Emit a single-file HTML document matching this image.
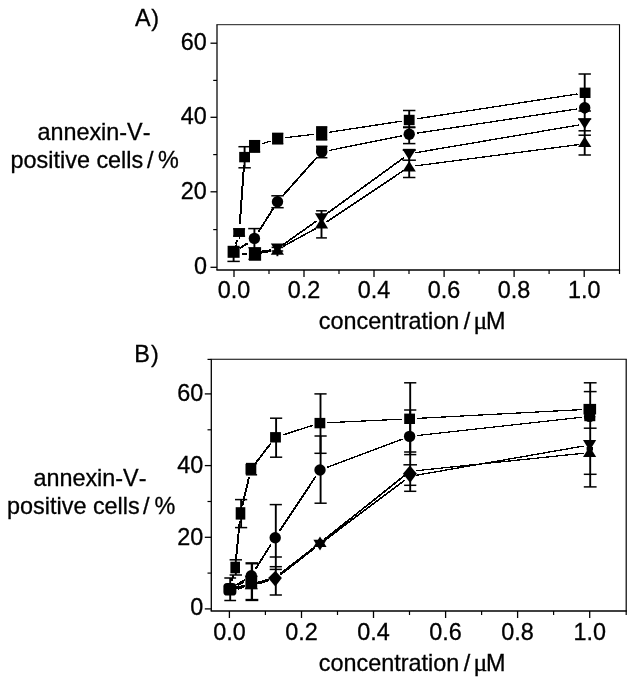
<!DOCTYPE html>
<html lang="en">
<head>
<meta charset="utf-8">
<title>Annexin-V-positive cells versus concentration</title>
<style>
html,body{margin:0;padding:0;background:#fff;}
body{width:636px;height:686px;overflow:hidden;}
svg{display:block;}
.t text{font-family:"Liberation Sans",Arial,Helvetica,sans-serif;font-size:23.4px;fill:#000;font-kerning:none;stroke:#000;stroke-width:0.3px;}
.t tspan.mu{font-family:"Liberation Serif","DejaVu Serif",serif;font-size:25.74px;}
</style>
</head>
<body>
<svg width="636" height="686" viewBox="0 0 636 686">
<rect x="0" y="0" width="636" height="686" fill="#fff"/>
<!-- panel A -->
<g stroke="#000" fill="none" shape-rendering="geometricPrecision">
<line x1="216.38" y1="24.7" x2="620.05" y2="24.7" stroke-width="0.9"/>
<line x1="216.38" y1="269.95" x2="620.05" y2="269.95" stroke-width="1.5"/>
<line x1="217" y1="24.7" x2="217" y2="269.95" stroke-width="1.25"/>
<line x1="619.5" y1="24.7" x2="619.5" y2="269.95" stroke-width="1.1"/>
<line x1="234" y1="269.95" x2="234" y2="276.95" stroke-width="1.3"/>
<line x1="304" y1="269.95" x2="304" y2="276.95" stroke-width="1.3"/>
<line x1="374" y1="269.95" x2="374" y2="276.95" stroke-width="1.3"/>
<line x1="444.1" y1="269.95" x2="444.1" y2="276.95" stroke-width="1.3"/>
<line x1="514.1" y1="269.95" x2="514.1" y2="276.95" stroke-width="1.3"/>
<line x1="584.2" y1="269.95" x2="584.2" y2="276.95" stroke-width="1.3"/>
<line x1="269" y1="269.95" x2="269" y2="273.95" stroke-width="1.2"/>
<line x1="339" y1="269.95" x2="339" y2="273.95" stroke-width="1.2"/>
<line x1="409" y1="269.95" x2="409" y2="273.95" stroke-width="1.2"/>
<line x1="479.1" y1="269.95" x2="479.1" y2="273.95" stroke-width="1.2"/>
<line x1="549.1" y1="269.95" x2="549.1" y2="273.95" stroke-width="1.2"/>
<line x1="619.5" y1="269.95" x2="619.5" y2="273.95" stroke-width="1.2"/>
<line x1="210.5" y1="267.3" x2="217" y2="267.3" stroke-width="1.3"/>
<line x1="210.5" y1="191.8" x2="217" y2="191.8" stroke-width="1.3"/>
<line x1="210.5" y1="117.3" x2="217" y2="117.3" stroke-width="1.3"/>
<line x1="210.5" y1="43.2" x2="217" y2="43.2" stroke-width="1.3"/>
<line x1="213.2" y1="229.6" x2="217" y2="229.6" stroke-width="1.2"/>
<line x1="213.2" y1="154.6" x2="217" y2="154.6" stroke-width="1.2"/>
<line x1="213.2" y1="80.4" x2="217" y2="80.4" stroke-width="1.2"/>
</g>
<g class="t">
<text x="206.9" y="273.7" text-anchor="end">0</text>
<text x="206.9" y="198.9" text-anchor="end">20</text>
<text x="206.9" y="124.4" text-anchor="end">40</text>
<text x="206.9" y="50.3" text-anchor="end">60</text>
<text x="234" y="297.5" text-anchor="middle">0.0</text>
<text x="304" y="297.5" text-anchor="middle">0.2</text>
<text x="374" y="297.5" text-anchor="middle">0.4</text>
<text x="444.1" y="297.5" text-anchor="middle">0.6</text>
<text x="514.1" y="297.5" text-anchor="middle">0.8</text>
<text x="584.2" y="297.5" text-anchor="middle">1.0</text>
</g>
<g stroke="#000" fill="none" shape-rendering="crispEdges">
<line x1="235.44" y1="244.01" x2="236.6" y2="239.99" stroke-width="1.2"/>
<line x1="236.2" y1="244.01" x2="237.36" y2="239.99" stroke-width="1.2"/>
<line x1="239.39" y1="224.32" x2="243.65" y2="165.08" stroke-width="1.2"/>
<line x1="240.15" y1="224.32" x2="244.41" y2="165.08" stroke-width="1.2"/>
<line x1="261.8" y1="143.84" x2="269.74" y2="141.16" stroke-width="1.2"/>
<line x1="262.56" y1="143.84" x2="270.5" y2="141.16" stroke-width="1.2"/>
<line x1="285.26" y1="137.66" x2="313.38" y2="134.34" stroke-width="1.2"/>
<line x1="286.02" y1="137.66" x2="314.14" y2="134.34" stroke-width="1.2"/>
<line x1="329.23" y1="132.19" x2="400.91" y2="121.21" stroke-width="1.2"/>
<line x1="329.99" y1="132.19" x2="401.67" y2="121.21" stroke-width="1.2"/>
<line x1="416.73" y1="118.78" x2="576.81" y2="94.02" stroke-width="1.2"/>
<line x1="417.49" y1="118.78" x2="577.57" y2="94.02" stroke-width="1.2"/>
<line x1="239.84" y1="248.01" x2="247.4" y2="242.89" stroke-width="1.2"/>
<line x1="240.6" y1="248.01" x2="248.16" y2="242.89" stroke-width="1.2"/>
<line x1="258.28" y1="231.63" x2="272.86" y2="208.47" stroke-width="1.2"/>
<line x1="259.04" y1="231.63" x2="273.62" y2="208.47" stroke-width="1.2"/>
<line x1="282.44" y1="195.72" x2="316" y2="157.98" stroke-width="1.2"/>
<line x1="283.2" y1="195.72" x2="316.76" y2="157.98" stroke-width="1.2"/>
<line x1="329.16" y1="150.41" x2="400.98" y2="135.89" stroke-width="1.2"/>
<line x1="329.92" y1="150.41" x2="401.74" y2="135.89" stroke-width="1.2"/>
<line x1="416.73" y1="133.11" x2="576.41" y2="108.99" stroke-width="1.2"/>
<line x1="417.49" y1="133.11" x2="577.17" y2="108.99" stroke-width="1.2"/>
<line x1="260.63" y1="251.43" x2="270.61" y2="249.77" stroke-width="1.2"/>
<line x1="261.39" y1="251.43" x2="271.37" y2="249.77" stroke-width="1.2"/>
<line x1="282.33" y1="244.95" x2="315.81" y2="221.25" stroke-width="1.2"/>
<line x1="283.09" y1="244.95" x2="316.57" y2="221.25" stroke-width="1.2"/>
<line x1="326.38" y1="213.68" x2="403.56" y2="157.62" stroke-width="1.2"/>
<line x1="327.14" y1="213.68" x2="404.32" y2="157.62" stroke-width="1.2"/>
<line x1="415.23" y1="152.71" x2="577.91" y2="125.09" stroke-width="1.2"/>
<line x1="415.99" y1="152.71" x2="578.67" y2="125.09" stroke-width="1.2"/>
<line x1="260.57" y1="253.11" x2="270.67" y2="250.89" stroke-width="1.2"/>
<line x1="261.33" y1="253.11" x2="271.43" y2="250.89" stroke-width="1.2"/>
<line x1="282.72" y1="246.38" x2="315.42" y2="228.52" stroke-width="1.2"/>
<line x1="283.48" y1="246.38" x2="316.18" y2="228.52" stroke-width="1.2"/>
<line x1="326.52" y1="221.78" x2="403.42" y2="170.32" stroke-width="1.2"/>
<line x1="327.28" y1="221.78" x2="404.18" y2="170.32" stroke-width="1.2"/>
<line x1="415.27" y1="165.86" x2="577.87" y2="144.64" stroke-width="1.2"/>
<line x1="416.03" y1="165.86" x2="578.63" y2="144.64" stroke-width="1.2"/>
<line x1="242.4" y1="253.8" x2="247" y2="253.8" stroke-width="2.2"/>
<line x1="262.4" y1="252.6" x2="270.2" y2="251" stroke-width="2.2"/>
<line x1="239.8" y1="248.3" x2="248.2" y2="243.5" stroke-width="1.5"/>
<line x1="236.2" y1="245.8" x2="237" y2="240.6" stroke-width="1.5"/>
<line x1="239.6" y1="237" x2="239.6" y2="238.6" stroke-width="1.5"/>
</g>
<g stroke="#000" fill="none">
<line x1="233.6" y1="256" x2="233.6" y2="261.4" stroke-width="1.9"/>
<line x1="227.4" y1="261.4" x2="239.8" y2="261.4" stroke-width="1.5"/>
<line x1="239.1" y1="228.8" x2="239.1" y2="236.2" stroke-width="1.9"/>
<line x1="233.1" y1="228.8" x2="245.1" y2="228.8" stroke-width="1.5"/>
<line x1="233.1" y1="236.2" x2="245.1" y2="236.2" stroke-width="1.5"/>
<line x1="244.6" y1="146.7" x2="244.6" y2="167.8" stroke-width="1.9"/>
<line x1="238.4" y1="146.7" x2="250.8" y2="146.7" stroke-width="1.5"/>
<line x1="238.4" y1="167.8" x2="250.8" y2="167.8" stroke-width="1.5"/>
<line x1="254.6" y1="140.7" x2="254.6" y2="152.1" stroke-width="1.9"/>
<line x1="249" y1="140.7" x2="260.2" y2="140.7" stroke-width="1.5"/>
<line x1="249" y1="152.1" x2="260.2" y2="152.1" stroke-width="1.5"/>
<line x1="277.7" y1="133.4" x2="277.7" y2="143.8" stroke-width="1.9"/>
<line x1="272.1" y1="133.4" x2="283.3" y2="133.4" stroke-width="1.5"/>
<line x1="272.1" y1="143.8" x2="283.3" y2="143.8" stroke-width="1.5"/>
<line x1="321.7" y1="126.9" x2="321.7" y2="139.9" stroke-width="1.9"/>
<line x1="316.1" y1="126.9" x2="327.3" y2="126.9" stroke-width="1.5"/>
<line x1="316.1" y1="139.9" x2="327.3" y2="139.9" stroke-width="1.5"/>
<line x1="409.2" y1="110.5" x2="409.2" y2="127" stroke-width="1.9"/>
<line x1="403" y1="110.5" x2="415.4" y2="110.5" stroke-width="1.5"/>
<line x1="403" y1="127" x2="415.4" y2="127" stroke-width="1.5"/>
<line x1="584.7" y1="74" x2="584.7" y2="111" stroke-width="1.9"/>
<line x1="578.5" y1="74" x2="590.9" y2="74" stroke-width="1.5"/>
<line x1="578.5" y1="111" x2="590.9" y2="111" stroke-width="1.5"/>
<line x1="254.4" y1="228.6" x2="254.4" y2="248.5" stroke-width="1.9"/>
<line x1="248.2" y1="228.6" x2="260.6" y2="228.6" stroke-width="1.5"/>
<line x1="277.5" y1="195.8" x2="277.5" y2="207.7" stroke-width="1.9"/>
<line x1="271.3" y1="195.8" x2="283.7" y2="195.8" stroke-width="1.5"/>
<line x1="271.3" y1="207.7" x2="283.7" y2="207.7" stroke-width="1.5"/>
<line x1="321.7" y1="146.3" x2="321.7" y2="157.7" stroke-width="1.9"/>
<line x1="316" y1="146.3" x2="327.4" y2="146.3" stroke-width="1.5"/>
<line x1="316" y1="157.7" x2="327.4" y2="157.7" stroke-width="1.5"/>
<line x1="409.2" y1="127.6" x2="409.2" y2="143.6" stroke-width="1.9"/>
<line x1="403" y1="127.6" x2="415.4" y2="127.6" stroke-width="1.5"/>
<line x1="403" y1="143.6" x2="415.4" y2="143.6" stroke-width="1.5"/>
<line x1="584.7" y1="102" x2="584.7" y2="114" stroke-width="1.9"/>
<line x1="321.5" y1="210.8" x2="321.5" y2="237.9" stroke-width="1.9"/>
<line x1="316.1" y1="210.8" x2="326.9" y2="210.8" stroke-width="1.5"/>
<line x1="316.1" y1="237.9" x2="326.9" y2="237.9" stroke-width="1.5"/>
<line x1="409.2" y1="149.6" x2="409.2" y2="177.5" stroke-width="1.9"/>
<line x1="403" y1="149.6" x2="415.4" y2="149.6" stroke-width="1.5"/>
<line x1="403" y1="177.5" x2="415.4" y2="177.5" stroke-width="1.5"/>
<line x1="402.5" y1="160.2" x2="415.9" y2="160.2" stroke-width="1.5"/>
<line x1="584.7" y1="113" x2="584.7" y2="155" stroke-width="1.9"/>
<line x1="578.5" y1="155" x2="590.9" y2="155" stroke-width="1.5"/>
<line x1="578.5" y1="130.8" x2="590.9" y2="130.8" stroke-width="1.5"/>
<line x1="578.5" y1="135.2" x2="590.9" y2="135.2" stroke-width="1.5"/>
<line x1="277.4" y1="250" x2="277.4" y2="256.2" stroke-width="1.9"/>
<line x1="271.6" y1="247.4" x2="283.2" y2="247.4" stroke-width="1.5"/>
<line x1="271.6" y1="251" x2="283.2" y2="251" stroke-width="1.5"/>
<line x1="402.7" y1="150.2" x2="415.7" y2="150.2" stroke-width="1.5"/>
<line x1="578.2" y1="119" x2="591.2" y2="119" stroke-width="1.5"/>
</g>
<g fill="#000" stroke="none">
<rect x="227.6" y="245.8" width="12" height="12"/>
<rect x="233.3" y="228.7" width="11.6" height="7.6"/>
<rect x="239.2" y="151.9" width="10.8" height="10.4"/>
<rect x="249.2" y="141.2" width="10.8" height="10.4"/>
<rect x="272.3" y="133.4" width="10.8" height="10.4"/>
<rect x="316.3" y="128.2" width="10.8" height="10.4"/>
<rect x="403.8" y="114.8" width="10.8" height="10.4"/>
<rect x="579.7" y="87.6" width="10.8" height="10.4"/>
<circle cx="254.4" cy="238.4" r="5.7"/>
<circle cx="277.5" cy="201.7" r="5.7"/>
<circle cx="321.7" cy="152" r="5.7"/>
<circle cx="409.2" cy="134.3" r="5.7"/>
<circle cx="584.7" cy="107.8" r="5.7"/>
<polygon points="248,247.2 261.2,247.2 254.6,257.8"/>
<polygon points="270.8,243.4 284,243.4 277.4,254"/>
<polygon points="314.9,213.3 328.1,213.3 321.5,223.9"/>
<polygon points="402.6,149.5 415.8,149.5 409.2,160.1"/>
<polygon points="578.1,118.5 591.3,118.5 584.7,129.1"/>
<polygon points="254.6,249.2 261.2,259.8 248,259.8"/>
<polygon points="277.4,244.2 284,254.8 270.8,254.8"/>
<polygon points="321.5,217.8 328.1,228.4 314.9,228.4"/>
<polygon points="409.2,160.9 415.8,171.5 402.6,171.5"/>
<polygon points="584.7,136.4 591.3,147 578.1,147"/>
<rect x="249.1" y="140.6" width="11" height="11.6"/>
<rect x="272.2" y="133.3" width="11" height="10.6"/>
<rect x="316.2" y="126.8" width="11" height="13.2"/>
<rect x="316.2" y="146.1" width="11" height="6.6"/>
<rect x="248.9" y="247.45" width="12.2" height="13.3"/>
</g>
<!-- panel B -->
<g stroke="#000" fill="none" shape-rendering="geometricPrecision">
<line x1="210.65" y1="359.3" x2="626.8" y2="359.3" stroke-width="1.05"/>
<line x1="210.65" y1="611" x2="626.8" y2="611" stroke-width="1.3"/>
<line x1="211.3" y1="359.3" x2="211.3" y2="611" stroke-width="1.3"/>
<line x1="626.2" y1="359.3" x2="626.2" y2="611" stroke-width="1.2"/>
<line x1="229.4" y1="611" x2="229.4" y2="618" stroke-width="1.3"/>
<line x1="301.5" y1="611" x2="301.5" y2="618" stroke-width="1.3"/>
<line x1="373.5" y1="611" x2="373.5" y2="618" stroke-width="1.3"/>
<line x1="445.6" y1="611" x2="445.6" y2="618" stroke-width="1.3"/>
<line x1="517.6" y1="611" x2="517.6" y2="618" stroke-width="1.3"/>
<line x1="589.7" y1="611" x2="589.7" y2="618" stroke-width="1.3"/>
<line x1="265.4" y1="611" x2="265.4" y2="615" stroke-width="1.2"/>
<line x1="337.5" y1="611" x2="337.5" y2="615" stroke-width="1.2"/>
<line x1="409.5" y1="611" x2="409.5" y2="615" stroke-width="1.2"/>
<line x1="481.6" y1="611" x2="481.6" y2="615" stroke-width="1.2"/>
<line x1="553.6" y1="611" x2="553.6" y2="615" stroke-width="1.2"/>
<line x1="626.2" y1="611" x2="626.2" y2="615" stroke-width="1.2"/>
<line x1="204.8" y1="608.9" x2="211.3" y2="608.9" stroke-width="1.3"/>
<line x1="204.8" y1="537.3" x2="211.3" y2="537.3" stroke-width="1.3"/>
<line x1="204.8" y1="465.6" x2="211.3" y2="465.6" stroke-width="1.3"/>
<line x1="204.8" y1="393.9" x2="211.3" y2="393.9" stroke-width="1.3"/>
<line x1="207.5" y1="573.1" x2="211.3" y2="573.1" stroke-width="1.2"/>
<line x1="207.5" y1="501.5" x2="211.3" y2="501.5" stroke-width="1.2"/>
<line x1="207.5" y1="429.8" x2="211.3" y2="429.8" stroke-width="1.2"/>
<line x1="207.5" y1="359.4" x2="211.3" y2="359.4" stroke-width="1.2"/>
</g>
<g class="t">
<text x="203.2" y="615.4" text-anchor="end">0</text>
<text x="203.2" y="544.5" text-anchor="end">20</text>
<text x="203.2" y="472.8" text-anchor="end">40</text>
<text x="203.2" y="401.1" text-anchor="end">60</text>
<text x="229.4" y="640.3" text-anchor="middle">0.0</text>
<text x="301.5" y="640.3" text-anchor="middle">0.2</text>
<text x="373.5" y="640.3" text-anchor="middle">0.4</text>
<text x="445.6" y="640.3" text-anchor="middle">0.6</text>
<text x="517.6" y="640.3" text-anchor="middle">0.8</text>
<text x="589.7" y="640.3" text-anchor="middle">1.0</text>
</g>
<g stroke="#000" fill="none" shape-rendering="crispEdges">
<line x1="231.39" y1="581.05" x2="232.85" y2="575.25" stroke-width="1.2"/>
<line x1="232.15" y1="581.05" x2="233.61" y2="575.25" stroke-width="1.2"/>
<line x1="235.6" y1="559.54" x2="239.34" y2="521.36" stroke-width="1.2"/>
<line x1="236.36" y1="559.54" x2="240.1" y2="521.36" stroke-width="1.2"/>
<line x1="241.95" y1="505.61" x2="248.69" y2="476.99" stroke-width="1.2"/>
<line x1="242.71" y1="505.61" x2="249.45" y2="476.99" stroke-width="1.2"/>
<line x1="255.41" y1="462.86" x2="270.23" y2="443.64" stroke-width="1.2"/>
<line x1="256.17" y1="462.86" x2="270.99" y2="443.64" stroke-width="1.2"/>
<line x1="282.74" y1="434.86" x2="311.9" y2="425.54" stroke-width="1.2"/>
<line x1="283.5" y1="434.86" x2="312.66" y2="425.54" stroke-width="1.2"/>
<line x1="327.51" y1="422.72" x2="401.23" y2="419.18" stroke-width="1.2"/>
<line x1="328.27" y1="422.72" x2="401.99" y2="419.18" stroke-width="1.2"/>
<line x1="417.21" y1="418.37" x2="581.23" y2="409.63" stroke-width="1.2"/>
<line x1="417.97" y1="418.37" x2="581.99" y2="409.63" stroke-width="1.2"/>
<line x1="236.24" y1="584.81" x2="244.1" y2="579.99" stroke-width="1.2"/>
<line x1="237" y1="584.81" x2="244.86" y2="579.99" stroke-width="1.2"/>
<line x1="255.17" y1="569.02" x2="270.57" y2="544.48" stroke-width="1.2"/>
<line x1="255.93" y1="569.02" x2="271.33" y2="544.48" stroke-width="1.2"/>
<line x1="279.23" y1="531.03" x2="315.21" y2="476.67" stroke-width="1.2"/>
<line x1="279.99" y1="531.03" x2="315.97" y2="476.67" stroke-width="1.2"/>
<line x1="327.11" y1="467.19" x2="401.73" y2="439.21" stroke-width="1.2"/>
<line x1="327.87" y1="467.19" x2="402.49" y2="439.21" stroke-width="1.2"/>
<line x1="417.17" y1="435.52" x2="581.27" y2="417.28" stroke-width="1.2"/>
<line x1="417.93" y1="435.52" x2="582.03" y2="417.28" stroke-width="1.2"/>
<line x1="235.78" y1="587.17" x2="244.56" y2="585.33" stroke-width="1.2"/>
<line x1="236.54" y1="587.17" x2="245.32" y2="585.33" stroke-width="1.2"/>
<line x1="257.2" y1="582.33" x2="268.64" y2="579.27" stroke-width="1.2"/>
<line x1="257.96" y1="582.33" x2="269.4" y2="579.27" stroke-width="1.2"/>
<line x1="280.05" y1="573.61" x2="314.49" y2="546.89" stroke-width="1.2"/>
<line x1="280.81" y1="573.61" x2="315.25" y2="546.89" stroke-width="1.2"/>
<line x1="324.7" y1="538.85" x2="404.24" y2="475.45" stroke-width="1.2"/>
<line x1="325.46" y1="538.85" x2="405" y2="475.45" stroke-width="1.2"/>
<line x1="415.78" y1="470.72" x2="582.76" y2="453.28" stroke-width="1.2"/>
<line x1="416.54" y1="470.72" x2="583.52" y2="453.28" stroke-width="1.2"/>
<line x1="235.81" y1="588.31" x2="244.53" y2="586.69" stroke-width="1.2"/>
<line x1="236.57" y1="588.31" x2="245.29" y2="586.69" stroke-width="1.2"/>
<line x1="257.18" y1="583.75" x2="268.66" y2="580.55" stroke-width="1.2"/>
<line x1="257.94" y1="583.75" x2="269.42" y2="580.55" stroke-width="1.2"/>
<line x1="280.04" y1="574.8" x2="314.5" y2="547.9" stroke-width="1.2"/>
<line x1="280.8" y1="574.8" x2="315.26" y2="547.9" stroke-width="1.2"/>
<line x1="324.81" y1="539.99" x2="404.13" y2="480.31" stroke-width="1.2"/>
<line x1="325.57" y1="539.99" x2="404.89" y2="480.31" stroke-width="1.2"/>
<line x1="415.72" y1="475.28" x2="582.82" y2="446.12" stroke-width="1.2"/>
<line x1="416.48" y1="475.28" x2="583.58" y2="446.12" stroke-width="1.2"/>
<line x1="238" y1="585" x2="244" y2="581.5" stroke-width="2"/>
<line x1="238" y1="589" x2="244" y2="587" stroke-width="1.6"/>
<line x1="258.8" y1="583.4" x2="267.5" y2="580.6" stroke-width="2.4"/>
</g>
<g stroke="#000" fill="none">
<line x1="230.2" y1="578" x2="230.2" y2="600.5" stroke-width="1.9"/>
<line x1="224.3" y1="578" x2="236.1" y2="578" stroke-width="1.5"/>
<line x1="224.3" y1="600.5" x2="236.1" y2="600.5" stroke-width="1.5"/>
<line x1="235.8" y1="559.8" x2="235.8" y2="575" stroke-width="1.9"/>
<line x1="229.6" y1="559.8" x2="242" y2="559.8" stroke-width="1.5"/>
<line x1="229.6" y1="575" x2="242" y2="575" stroke-width="1.5"/>
<line x1="241.1" y1="499.6" x2="241.1" y2="527.6" stroke-width="1.9"/>
<line x1="235" y1="499.6" x2="247.2" y2="499.6" stroke-width="1.5"/>
<line x1="235" y1="527.6" x2="247.2" y2="527.6" stroke-width="1.5"/>
<line x1="251.5" y1="463.6" x2="251.5" y2="474.8" stroke-width="1.9"/>
<line x1="245.9" y1="463.6" x2="257.1" y2="463.6" stroke-width="1.5"/>
<line x1="245.9" y1="474.8" x2="257.1" y2="474.8" stroke-width="1.5"/>
<line x1="276.1" y1="418.2" x2="276.1" y2="457.2" stroke-width="1.9"/>
<line x1="270" y1="418.2" x2="282.2" y2="418.2" stroke-width="1.5"/>
<line x1="270" y1="457.2" x2="282.2" y2="457.2" stroke-width="1.5"/>
<line x1="320.5" y1="393.9" x2="320.5" y2="453.3" stroke-width="1.9"/>
<line x1="314.4" y1="393.9" x2="326.6" y2="393.9" stroke-width="1.5"/>
<line x1="314.4" y1="453.3" x2="326.6" y2="453.3" stroke-width="1.5"/>
<line x1="410.2" y1="382.8" x2="410.2" y2="454.6" stroke-width="1.9"/>
<line x1="404.1" y1="382.8" x2="416.3" y2="382.8" stroke-width="1.5"/>
<line x1="404.1" y1="454.6" x2="416.3" y2="454.6" stroke-width="1.5"/>
<line x1="590.2" y1="382.8" x2="590.2" y2="486.9" stroke-width="1.9"/>
<line x1="583.8" y1="382.8" x2="596.6" y2="382.8" stroke-width="1.5"/>
<line x1="583.8" y1="486.9" x2="596.6" y2="486.9" stroke-width="1.5"/>
<line x1="583.8" y1="391.6" x2="596.6" y2="391.6" stroke-width="1.5"/>
<line x1="583.8" y1="428.2" x2="596.6" y2="428.2" stroke-width="1.5"/>
<line x1="583.8" y1="474.3" x2="596.6" y2="474.3" stroke-width="1.5"/>
<line x1="251.9" y1="563.3" x2="251.9" y2="600" stroke-width="2.3"/>
<line x1="245.5" y1="563.3" x2="258.3" y2="563.3" stroke-width="2.3"/>
<line x1="245.5" y1="600" x2="258.3" y2="600" stroke-width="2.3"/>
<line x1="275.8" y1="504.6" x2="275.8" y2="595" stroke-width="1.9"/>
<line x1="269.7" y1="504.6" x2="281.9" y2="504.6" stroke-width="1.5"/>
<line x1="269.7" y1="595" x2="281.9" y2="595" stroke-width="1.5"/>
<line x1="269.7" y1="557" x2="281.9" y2="557" stroke-width="1.5"/>
<line x1="269.7" y1="566.7" x2="281.9" y2="566.7" stroke-width="1.5"/>
<line x1="269.7" y1="569.4" x2="281.9" y2="569.4" stroke-width="1.5"/>
<line x1="320.6" y1="436" x2="320.6" y2="503.2" stroke-width="1.9"/>
<line x1="314.5" y1="436" x2="326.7" y2="436" stroke-width="1.5"/>
<line x1="314.5" y1="503.2" x2="326.7" y2="503.2" stroke-width="1.5"/>
<line x1="410.2" y1="410" x2="410.2" y2="491.3" stroke-width="1.9"/>
<line x1="404.1" y1="410" x2="416.3" y2="410" stroke-width="1.5"/>
<line x1="404.1" y1="491.3" x2="416.3" y2="491.3" stroke-width="1.5"/>
<line x1="404.1" y1="452" x2="416.3" y2="452" stroke-width="1.5"/>
<line x1="403.4" y1="464.8" x2="417" y2="464.8" stroke-width="1.5"/>
<line x1="404.1" y1="485.3" x2="416.3" y2="485.3" stroke-width="1.5"/>
</g>
<g fill="#000" stroke="none">
<rect x="230.4" y="561.7" width="9.6" height="11.6"/>
<rect x="235.7" y="507.2" width="9.6" height="12.4"/>
<rect x="245.5" y="464" width="10.8" height="10.4"/>
<rect x="270.1" y="432.1" width="10.8" height="10.4"/>
<rect x="314.5" y="417.9" width="10.8" height="10.4"/>
<rect x="404.2" y="413.6" width="10.8" height="10.4"/>
<rect x="584.2" y="404" width="10.8" height="10.4"/>
<circle cx="251.3" cy="575.8" r="5.7"/>
<circle cx="275.2" cy="537.7" r="5.7"/>
<circle cx="320" cy="470" r="5.7"/>
<circle cx="409.6" cy="436.4" r="5.7"/>
<circle cx="589.6" cy="416.4" r="5.7"/>
<polygon points="251.3,578.7 257.9,589.3 244.7,589.3"/>
<polygon points="244.7,575.7 257.9,575.7 251.3,586.3"/>
<rect x="245.4" y="575.7" width="11.8" height="13.4"/>
<polygon points="268.1,578 275.4,570.8 281.9,578 275.3,586.4"/>
<polygon points="320,536.4 326.6,547 313.4,547"/>
<polygon points="313.4,539.8 326.6,539.8 320,550.4"/>
<polygon points="402.9,473.7 409.9,465.4 416.9,473.7 410.1,482.8"/>
<polygon points="589.6,446.5 596.2,457.1 583,457.1"/>
<polygon points="583,440.1 596.2,440.1 589.6,450.7"/>
<rect x="586.6" y="447" width="6.4" height="3.6"/>
<rect x="583.5" y="403.9" width="12.6" height="10.6"/>
<rect x="584.3" y="416" width="11" height="5.2"/>
<rect x="223.4" y="582.9" width="13" height="12.6" rx="3.6" ry="3.6"/>
</g>
<g class="t">
<text x="135" y="26.2" text-anchor="start" letter-spacing="0.6">A)</text>
<text x="134.3" y="361.8" text-anchor="start" letter-spacing="1.2">B)</text>
<text x="37.4" y="139.7" text-anchor="start">annexin-V-</text>
<text x="10.6" y="167.8" text-anchor="start">positive cells<tspan dx="-2.7"> /</tspan><tspan dx="-1.9"> %</tspan></text>
<text x="33.4" y="486" text-anchor="start">annexin-V-</text>
<text x="7.1" y="514.4" text-anchor="start">positive cells<tspan dx="-3.2"> /</tspan><tspan dx="-1.5"> %</tspan></text>
<text x="318.8" y="329.4" text-anchor="start">concentration<tspan dx="-2"> / </tspan><tspan class="mu" dx="-3.2">μ</tspan><tspan x="485.9">M</tspan></text>
<text x="318.8" y="671.2" text-anchor="start">concentration<tspan dx="-2"> / </tspan><tspan class="mu" dx="-3.2">μ</tspan><tspan x="485.9">M</tspan></text>
</g>
</svg>
</body>
</html>
